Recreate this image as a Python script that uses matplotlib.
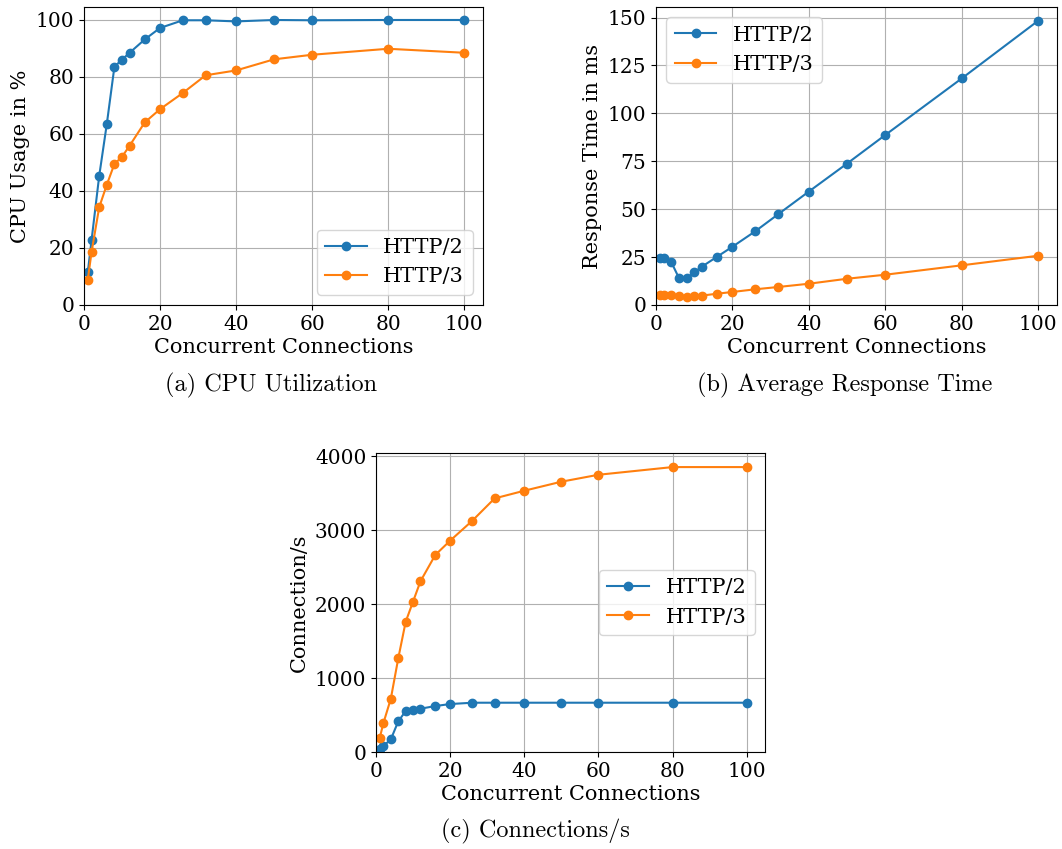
import numpy as np
import matplotlib.pyplot as plt

plt.rcParams['font.family'] = 'DejaVu Serif'
plt.rcParams['font.size'] = 15
plt.rcParams['xtick.labelsize'] = 14.5
plt.rcParams['ytick.labelsize'] = 14.5

connections = [1, 2, 4, 6, 8, 10, 12, 16, 20, 26, 32, 40, 50, 60, 80, 100]

cpu_h2 = [11.5, 22.9, 45.3, 63.5, 83.6, 86.1, 88.5, 93.2, 97.2, 99.9, 99.9, 99.5, 100.0, 99.9, 100.0, 100.0]
cpu_h3 = [8.9, 18.7, 34.3, 42.2, 49.5, 52.0, 55.9, 64.1, 68.7, 74.4, 80.6, 82.3, 86.2, 87.8, 89.9, 88.5]

rt_h2 = [24.5, 24.3, 22.4, 14.1, 13.9, 17.0, 20.0, 25.2, 30.4, 38.5, 47.4, 59.2, 73.8, 88.7, 118.2, 148.3]
rt_h3 = [5.2, 5.0, 5.4, 4.5, 4.3, 4.7, 4.9, 5.9, 6.8, 8.2, 9.4, 11.1, 13.7, 15.8, 20.7, 25.7]

cps_h2 = [45, 81, 171, 414, 554, 563, 586, 622, 649, 667, 667, 667, 667, 667, 667, 667]
cps_h3 = [189, 392, 721, 1266, 1761, 2036, 2311, 2667, 2860, 3131, 3432, 3536, 3658, 3752, 3856, 3856]

W, H = 1062, 849
fig = plt.figure(figsize=(W / 100, H / 100), dpi=100)


def box(l, t, r, b):
    return [l / W, 1 - b / H, (r - l) / W, (b - t) / H]


panels = [
    (box(84, 7, 483, 305), cpu_h2, cpu_h3, 'CPU Usage in %', 'lower right', '(a) CPU Utilization', 271, 385),
    (box(656, 7, 1057, 305), rt_h2, rt_h3, 'Response Time in ms', 'upper left', '(b) Average Response Time', 845, 385),
    (box(376, 453, 765, 752), cps_h2, cps_h3, 'Connection/s', 'center right', '(c) Connections/s', 535, 831),
]

for rect, h2, h3, ylabel, loc, caption, cap_x, cap_y in panels:
    ax = fig.add_axes(rect)
    ax.plot(connections, h2, marker='o', markersize=6, label='HTTP/2')
    ax.plot(connections, h3, marker='o', markersize=6, label='HTTP/3')
    ax.set_xlim(left=0)
    ax.set_ylim(bottom=0)
    ax.grid(True)
    ax.set_xlabel('Concurrent Connections', labelpad=3)
    ax.set_ylabel(ylabel)
    ax.legend(loc=loc, fontsize=15)
    fig.text(cap_x / W, 1 - cap_y / H, caption, ha='center', va='center',
             family='cmr10', fontsize=17.5)

plt.savefig('out.png', dpi=100)
